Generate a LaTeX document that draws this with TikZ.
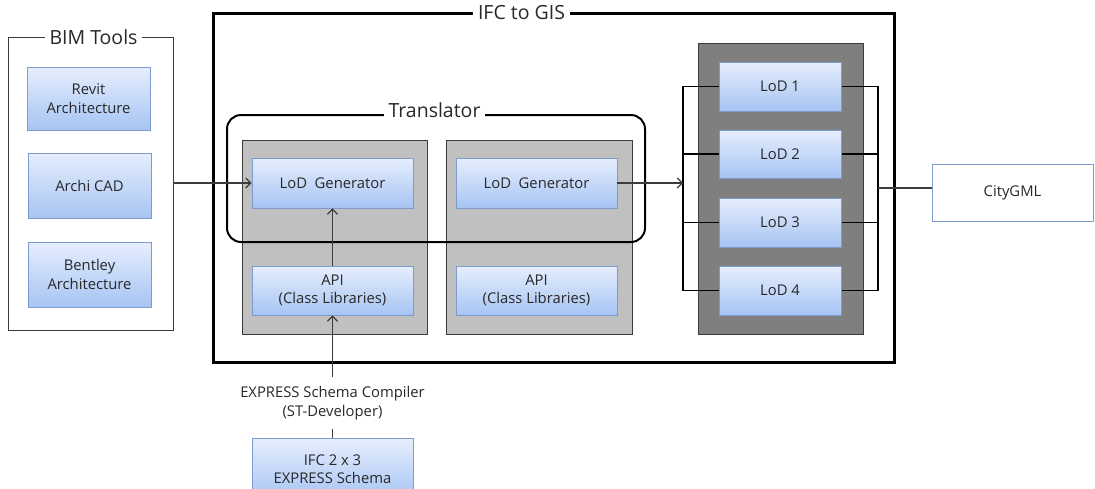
\documentclass[tikz,border=0pt]{standalone}
\usepackage{fontspec}
\setmainfont{Open Sans}
\usetikzlibrary{arrows.meta,shadows}
\definecolor{bluetop}{RGB}{230,238,253}
\definecolor{bluebot}{RGB}{166,196,243}
\definecolor{blueline}{RGB}{125,155,205}
\definecolor{txt}{RGB}{40,40,40}
\definecolor{lgray}{RGB}{192,192,192}
\definecolor{dgray}{RGB}{127,127,127}
\definecolor{edgec}{RGB}{60,60,60}
\begin{document}
\begin{tikzpicture}[x=1pt,y=-1pt,
  every node/.style={text=txt, font=\fontsize{14.8}{18.5}\selectfont, align=center, inner sep=0pt},
  bluebox/.style={draw=blueline, line width=0.8pt, top color=bluetop, bottom color=bluebot,
    drop shadow={shadow xshift=1.2pt, shadow yshift=-1.2pt, opacity=0.3}},
  graybox/.style={draw=edgec, line width=0.8pt, fill=lgray},
  darkbox/.style={draw=edgec, line width=0.8pt, fill=dgray},
  titlelbl/.style={fill=white, inner sep=5pt, font=\fontsize{19.5}{23}\selectfont},
  arr/.style={draw=edgec, line width=1.2pt, -{Straight Barb[length=5pt,width=10pt,line width=1.2pt]}},
  conn/.style={draw=edgec, line width=1.2pt},
  bus/.style={draw=black, line width=1.8pt}]
\useasboundingbox (0,0) rectangle (1095,488);
\fill[white] (0,0) rectangle (1095,488);

% BIM Tools group
\node[draw=edgec, line width=1pt, minimum width=165pt, minimum height=293pt] (bim) at (90.5,183.5) {};
\node[titlelbl] (bimt) at (93.5,37) {BIM Tools};
\node[bluebox, minimum width=123pt, minimum height=63pt] (revit) at (88.5,98.5) {Revit\\Architecture};
\node[bluebox, minimum width=123pt, minimum height=65pt] (archi) at (89.5,185.5) {Archi CAD};
\node[bluebox, minimum width=123pt, minimum height=65pt] (bentley) at (89.5,274.5) {Bentley\\Architecture};

% IFC to GIS frame
\node[draw=black, line width=3pt, minimum width=681pt, minimum height=349pt] (gis) at (553.5,187.5) {};
\node[titlelbl] (gist) at (521.5,13) {IFC to GIS};

% gray containers
\node[graybox, minimum width=185pt, minimum height=194pt] (gray1) at (334.5,237) {};
\node[graybox, minimum width=186pt, minimum height=194pt] (gray2) at (539,237) {};
\node[bluebox, minimum width=161pt, minimum height=50pt] (gen1) at (332.5,183) {LoD\ \ Generator};
\node[bluebox, minimum width=161pt, minimum height=50pt] (gen2) at (536.5,183) {LoD\ \ Generator};
\node[bluebox, minimum width=161pt, minimum height=49pt] (api1) at (332.5,290.5) {API\\(Class Libraries)};
\node[bluebox, minimum width=161pt, minimum height=49pt] (api2) at (536.5,290.5) {API\\(Class Libraries)};

% Translator
\node[draw=black, line width=2pt, rounded corners=14pt, minimum width=418pt, minimum height=127pt] (trans) at (436,178.5) {};
\node[titlelbl] (transt) at (434.5,110) {Translator};

% LoD column
\node[darkbox, minimum width=165pt, minimum height=291pt] (dark) at (780.5,188.5) {};
\coordinate (bl) at (683,183);
\coordinate (br) at (878,188);
\draw[bus] (719,86.5) -| (bl) |- (719,290.5);
\draw[bus] (719,154) -- (683,154);
\draw[bus] (719,222.5) -- (683,222.5);
\draw[bus] (841,86.5) -| (br) |- (841,290.5);
\draw[bus] (841,154) -- (878,154);
\draw[bus] (841,222.5) -- (878,222.5);
\node[bluebox, minimum width=122pt, minimum height=49pt] (lod1) at (780,86.5) {LoD 1};
\node[bluebox, minimum width=122pt, minimum height=48pt] (lod2) at (780,154) {LoD 2};
\node[bluebox, minimum width=122pt, minimum height=49pt] (lod3) at (780,222.5) {LoD 3};
\node[bluebox, minimum width=122pt, minimum height=49pt] (lod4) at (780,290.5) {LoD 4};

% CityGML
\node[draw=blueline, line width=0.8pt, fill=white, minimum width=161pt, minimum height=57pt] (city) at (1012.5,192.5) {CityGML};
\draw[conn] (br) -- (br -| city.west);

% compiler and schema
\node[inner ysep=9pt] (comp) at (332.5,403) {EXPRESS Schema Compiler\\(ST-Developer)};
\node[bluebox, minimum width=161pt, minimum height=62pt] (ifc) at (332.5,469) {IFC 2 x 3\\EXPRESS Schema};

% connectors
\draw[arr] (bim.east |- gen1.west) -- (gen1.west);
\draw[arr] (api1.north) -- (gen1.south);
\draw[arr] (comp.north) -- (api1.south);
\draw[conn] (ifc.north) -- (comp.south);
\draw[arr] (gen2.east) -- (bl);
\end{tikzpicture}
\end{document}
